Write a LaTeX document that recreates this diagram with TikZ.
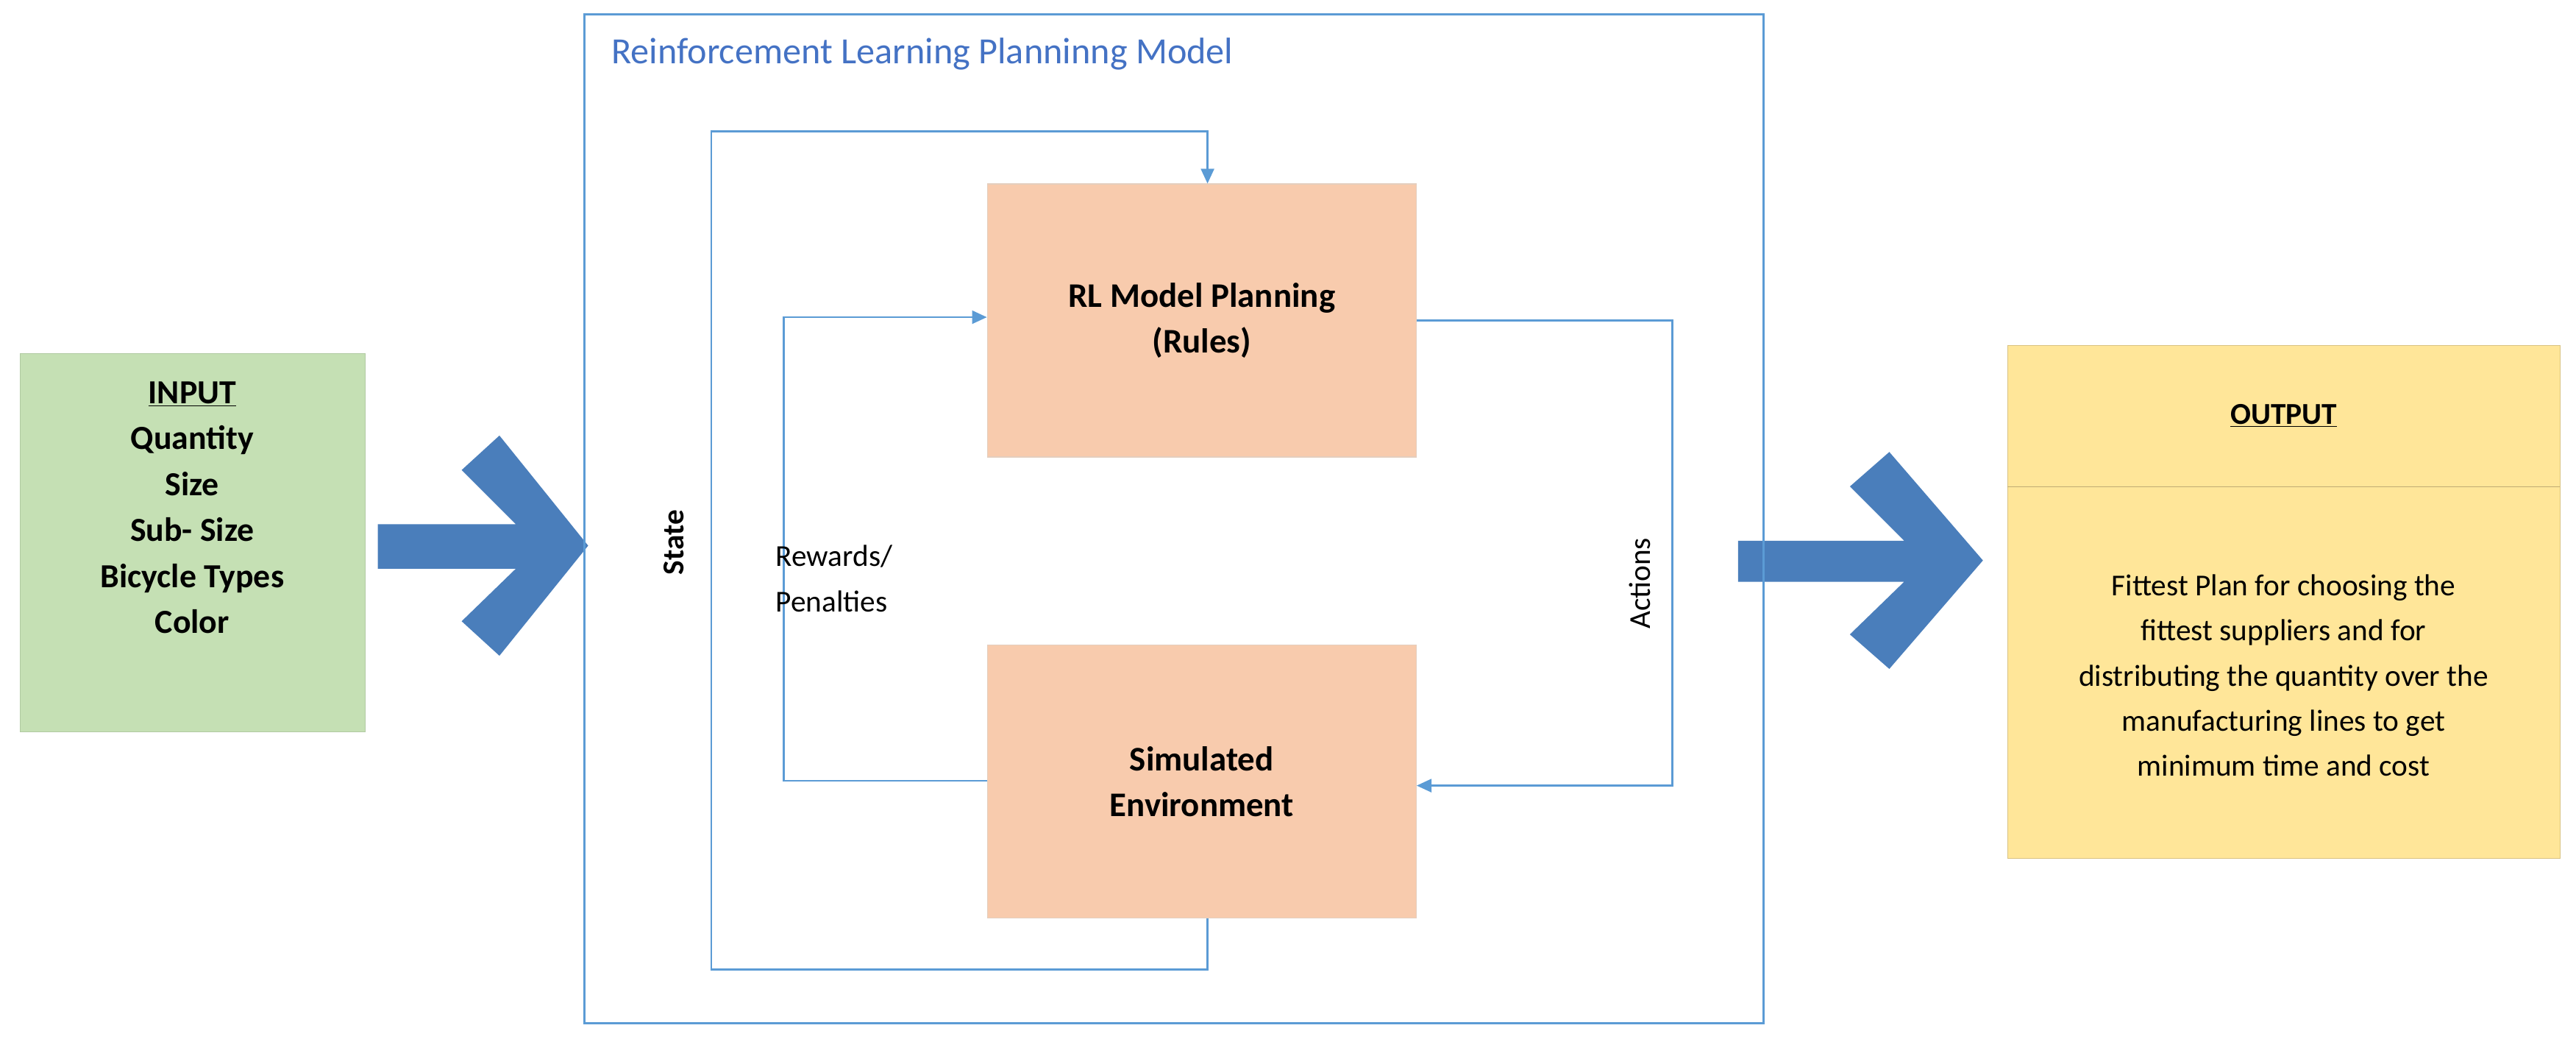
\documentclass[tikz,border=0pt]{standalone}
\usepackage{fontspec}
\setmainfont{Carlito}
\usetikzlibrary{arrows.meta}
\definecolor{bigblue}{RGB}{74,126,187}
\definecolor{lineblue}{RGB}{91,155,213}
\definecolor{titleblue}{RGB}{68,114,196}
\definecolor{ingreen}{RGB}{197,224,180}
\definecolor{salmon}{RGB}{248,203,173}
\definecolor{outyellow}{RGB}{255,230,153}
\begin{document}
\begin{tikzpicture}[x=1pt,y=-1pt,
  conn/.style={draw=lineblue,line width=1.2pt},
  arr/.style={conn,-{Triangle[length=9pt,width=8pt]}},
  box/.style={draw=salmon!85!black!60,fill=salmon,line width=0.6pt,minimum width=261pt,minimum height=166pt,align=center,font=\fontsize{21}{28}\selectfont\bfseries},
  txt/.style={font=\fontsize{18.5}{27.5}\selectfont,align=center,inner sep=0pt}]
\useasboundingbox (0,0) rectangle (1568,634);
% input
\node[fill=ingreen,draw=ingreen!90!black,minimum width=210pt,minimum height=230pt,anchor=north west] (in) at (12,215) {};
\node[txt,font=\fontsize{20.5}{28}\selectfont\bfseries,anchor=north] (intxt) at (117,232) {\underline{INPUT}\\Quantity\\Size\\Sub- Size\\Bicycle Types\\Color};
% big arrows
\fill[bigblue] (230,319) -- (314,319) -- (281,286) -- (304,265) -- (358,332) -- (304,399) -- (281,378) -- (314,346) -- (230,346) -- cycle;
\fill[bigblue] (1058,329) -- (1159,329) -- (1126,296) -- (1150,275) -- (1207,341) -- (1150,407) -- (1126,386) -- (1159,354) -- (1058,354) -- cycle;
% frame
\node[draw=lineblue,line width=1.2pt,minimum width=718pt,minimum height=614pt,anchor=north west] (frame) at (355,8) {};
\node[anchor=west,text=titleblue,font=\fontsize{22.5}{26}\selectfont,inner sep=0pt] (title) at (372,33) {Reinforcement Learning Planninng Model};
% boxes
\node[box] (rl) at (731.5,195) {RL Model Planning\\(Rules)};
\node[box] (sim) at (731.5,475.5) {Simulated\\Environment};
% state loop
\coordinate (s1) at (735,590);
\coordinate (s2) at (433,590);
\coordinate (s3) at (433,80);
\coordinate (s4) at (735,80);
\draw[arr] (sim.south -| s1) -- (s1) -- (s2) -- (s3) -- (s4) -- (rl.north -| s4);
\node[rotate=90,font=\fontsize{18.5}{20}\selectfont\bfseries] (state) at (410,330) {State};
% rewards
\coordinate (r1) at (477,475);
\coordinate (r2) at (477,193);
\draw[arr] (sim.west |- r1) -- (r1) -- (r2) -- (rl.west |- r2);
\node[anchor=west,align=left,font=\fontsize{18.5}{28}\selectfont,inner sep=0pt] (rew) at (472,352) {Rewards/\\Penalties};
% actions
\coordinate (a1) at (1018,195);
\coordinate (a2) at (1018,478);
\draw[arr] (rl.east |- a1) -- (a1) -- (a2) -- (sim.east |- a2);
\node[rotate=90,font=\fontsize{18.5}{20}\selectfont] (act) at (998,355) {Actions};
% output
\node[fill=outyellow,draw=outyellow!85!black,minimum width=336pt,minimum height=312pt,anchor=north west] (out) at (1222,210) {};
\draw[draw=outyellow!75!black] (1222,296) -- (1558,296);
\node[font=\fontsize{18.5}{20}\selectfont\bfseries] (outt) at (1390,253) {\underline{OUTPUT}};
\node[txt] (outtxt) at (1390,411) {Fittest Plan for choosing the\\fittest suppliers and for\\distributing the quantity over the\\manufacturing lines to get\\minimum time and cost};
\end{tikzpicture}
\end{document}
